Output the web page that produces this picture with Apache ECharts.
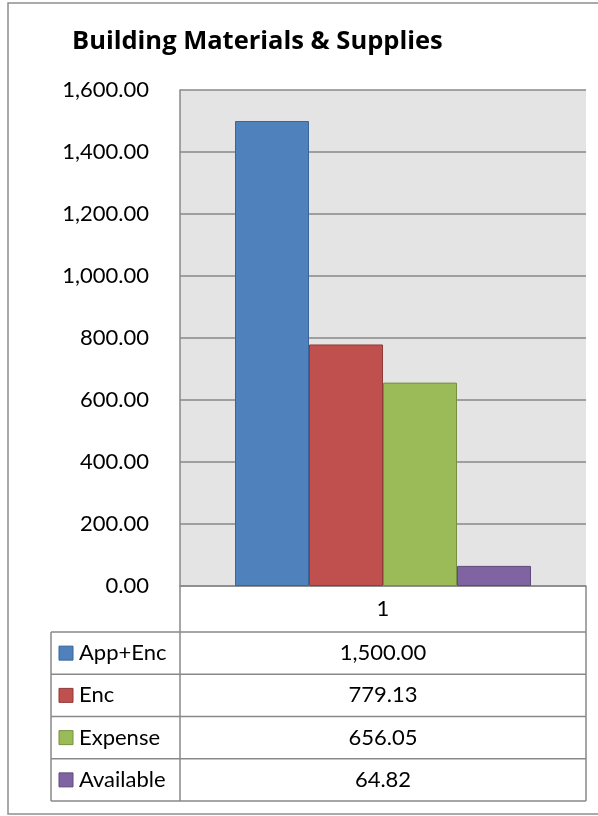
<!DOCTYPE html>
<html>
<head>
<meta charset="utf-8">
<script src="https://cdn.jsdelivr.net/npm/echarts@6/dist/echarts.min.js"></script>
<style>
html, body { margin: 0; padding: 0; background: #fff; }
#chart { width: 598px; height: 816px; }
</style>
</head>
<body>
<div id="chart"></div>
<script>
// data
var chartTitle = 'Building Materials & Supplies';
var categories = ['1'];
var seriesNames = ['App+Enc', 'Enc', 'Expense', 'Available'];
var seriesValues = [1500.00, 779.13, 656.05, 64.82];
var seriesColors = ['#4f81bd', '#c0504d', '#9bbb59', '#8064a2'];
var borderColors = ['#3a659b', '#8e3b39', '#75913f', '#5e4a7c'];
var yMin = 0, yMax = 1600, yStep = 200;

// layout
var gridLeft = 180, gridTop = 90, gridRight = 586, gridBottom = 586;
var tableLeft = 51, rowH = 42.25, headerBottom = 632;
var lineColor = '#898989';
var font = 'Lato';

function fmt(v) {
    return Number(v).toLocaleString('en-US', { minimumFractionDigits: 2, maximumFractionDigits: 2 });
}

var chart = echarts.init(document.getElementById('chart'));

// data table drawn below the axis
var graphics = [];
// outer frame
graphics.push({ type: 'rect', shape: { x: 8, y: 3, width: 620, height: 811 },
    style: { fill: 'none', stroke: '#8f8f8f', lineWidth: 1.5 }, silent: true });
// vertical lines
graphics.push({ type: 'line', shape: { x1: tableLeft, y1: headerBottom, x2: tableLeft, y2: headerBottom + rowH * seriesNames.length },
    style: { stroke: lineColor, lineWidth: 1.5 } });
graphics.push({ type: 'line', shape: { x1: gridLeft, y1: gridBottom, x2: gridLeft, y2: headerBottom + rowH * seriesNames.length },
    style: { stroke: lineColor, lineWidth: 1.5 } });
graphics.push({ type: 'line', shape: { x1: gridRight, y1: gridBottom, x2: gridRight, y2: headerBottom + rowH * seriesNames.length },
    style: { stroke: lineColor, lineWidth: 1.5 } });
for (var r = 0; r <= seriesNames.length; r++) {
    var yy = headerBottom + rowH * r;
    graphics.push({ type: 'line', shape: { x1: tableLeft, y1: yy, x2: gridRight, y2: yy },
        style: { stroke: lineColor, lineWidth: 1.5 } });
}
for (var i = 0; i < seriesNames.length; i++) {
    var cy = headerBottom + rowH * i + rowH / 2;
    graphics.push({ type: 'rect', shape: { x: 59, y: cy - 7, width: 14, height: 14 },
        style: { fill: seriesColors[i], stroke: borderColors[i], lineWidth: 1 } });
    graphics.push({ type: 'text', x: 79, y: cy,
        style: { text: seriesNames[i], font: '22px ' + font, fill: '#000', textVerticalAlign: 'middle', textAlign: 'left' } });
    graphics.push({ type: 'text', x: (gridLeft + gridRight) / 2, y: cy,
        style: { text: fmt(seriesValues[i]), font: '22px ' + font, fill: '#000', textVerticalAlign: 'middle', textAlign: 'center' } });
}

var series = seriesNames.map(function (name, i) {
    return {
        name: name,
        type: 'bar',
        data: [seriesValues[i]],
        barWidth: 74,
        barGap: '0%',
        itemStyle: { color: seriesColors[i], borderColor: borderColors[i], borderWidth: 1 },
        emphasis: { disabled: true },
        silent: true
    };
});

var option = {
    animation: false,
    backgroundColor: '#fff',
    textStyle: { fontFamily: font },
    title: {
        text: chartTitle,
        left: 72,
        top: 29,
        padding: 0,
        textStyle: { fontFamily: 'Open Sans', fontWeight: 'bold', fontSize: 25.5, color: '#000' }
    },
    grid: {
        left: gridLeft,
        top: gridTop,
        width: gridRight - gridLeft,
        height: gridBottom - gridTop,
        show: true,
        backgroundColor: '#e4e4e4',
        borderWidth: 0
    },
    xAxis: {
        type: 'category',
        data: categories,
        axisLine: { lineStyle: { color: lineColor, width: 1.5 } },
        axisTick: { show: false },
        axisLabel: { color: '#000', fontSize: 22, fontFamily: font, margin: 12 }
    },
    yAxis: {
        type: 'value',
        min: yMin,
        max: yMax,
        interval: yStep,
        axisLine: { show: true, lineStyle: { color: lineColor, width: 1.5 } },
        axisTick: { show: false },
        splitLine: { lineStyle: { color: lineColor, width: 1.5 } },
        axisLabel: { color: '#000', fontSize: 22, fontFamily: font, margin: 31, formatter: fmt }
    },
    series: series,
    graphic: graphics
};
chart.setOption(option);
</script>
</body>
</html>
